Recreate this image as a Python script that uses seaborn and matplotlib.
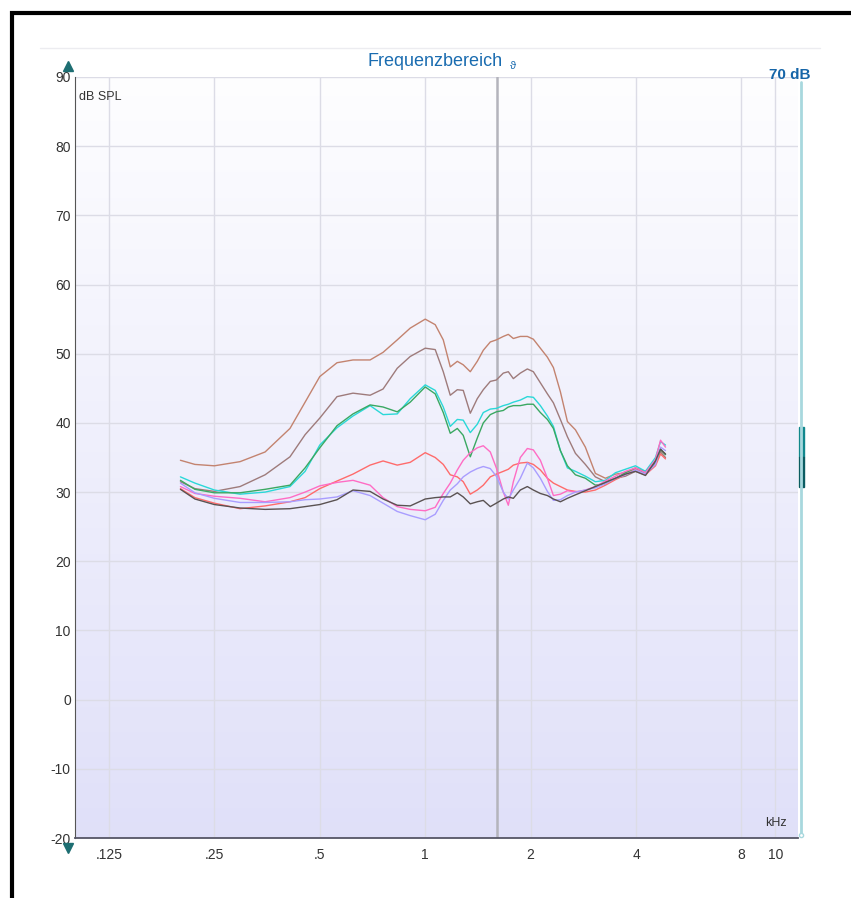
import numpy as np
import pandas as pd
import matplotlib.pyplot as plt
import seaborn as sns
from matplotlib.lines import Line2D
from matplotlib.patches import Rectangle

# frequency grid (kHz) shared by all measured curves
freq_khz = [0.2, 0.22, 0.25, 0.296, 0.349, 0.411, 0.454, 0.5, 0.56, 0.622,
            0.696, 0.758, 0.832, 0.906, 1.0, 1.068, 1.126, 1.179, 1.235, 1.284,
            1.345, 1.408, 1.465, 1.534, 1.596, 1.671, 1.727, 1.785, 1.869, 1.957,
            2.036, 2.132, 2.233, 2.323, 2.432, 2.547, 2.685, 2.866, 3.061, 3.27,
            3.493, 3.73, 3.984, 4.255, 4.545, 4.698, 4.854]

brown = [34.6, 34.0, 33.8, 34.4, 35.8, 39.2, 43.0, 46.7, 48.7, 49.1,
         49.1, 50.2, 52.0, 53.7, 55.0, 54.2, 52.0, 48.1, 48.9, 48.4,
         47.4, 48.9, 50.5, 51.7, 52.0, 52.5, 52.8, 52.2, 52.5, 52.5,
         52.1, 50.8, 49.5, 48.0, 44.5, 40.2, 39.0, 36.5, 32.7, 32.0,
         32.6, 32.8, 33.5, 33.0, 34.5, 36.0, 35.5]
taupe = [31.5, 30.5, 30.1, 30.8, 32.5, 35.1, 38.3, 40.7, 43.8, 44.3,
         44.0, 44.9, 47.9, 49.6, 50.8, 50.6, 47.4, 44.0, 44.8, 44.7,
         41.4, 43.5, 44.8, 46.0, 46.2, 47.2, 47.4, 46.4, 47.2, 47.8,
         47.4, 45.8, 44.2, 42.9, 40.5, 38.0, 35.6, 34.0, 32.2, 31.5,
         32.0, 32.3, 33.0, 32.5, 34.2, 35.8, 35.0]
cyan = [32.2, 31.3, 30.3, 29.7, 30.0, 30.8, 33.0, 36.8, 39.3, 41.0,
        42.5, 41.2, 41.3, 43.5, 45.5, 44.7, 42.3, 39.5, 40.5, 40.4,
        38.6, 39.8, 41.5, 42.0, 42.1, 42.5, 42.7, 43.0, 43.3, 43.8,
        43.7, 42.5, 41.0, 39.5, 36.0, 33.5, 33.0, 32.3, 31.5, 31.7,
        32.8, 33.3, 33.8, 33.0, 35.0, 37.3, 36.8]
green = [31.7, 30.4, 29.9, 29.9, 30.4, 31.0, 33.5, 36.4, 39.6, 41.3,
         42.6, 42.3, 41.6, 43.0, 45.2, 44.2, 41.5, 38.5, 39.2, 38.2,
         35.1, 37.8, 40.0, 41.2, 41.6, 41.8, 42.3, 42.5, 42.5, 42.7,
         42.7, 41.5, 40.5, 39.2, 36.0, 33.8, 32.5, 32.0, 31.0, 31.2,
         32.0, 32.8, 33.4, 32.7, 34.4, 36.2, 35.4]
red = [30.5, 29.2, 28.4, 27.6, 28.0, 28.6, 29.2, 30.5, 31.6, 32.6,
       33.9, 34.5, 33.9, 34.3, 35.7, 35.0, 34.0, 32.5, 32.2, 31.5,
       29.7, 30.3, 31.0, 32.2, 32.6, 33.0, 33.3, 33.9, 34.2, 34.3,
       34.0, 33.2, 32.0, 31.3, 30.8, 30.3, 30.1, 30.0, 30.3, 31.0,
       31.8, 32.5, 33.3, 32.5, 33.8, 35.5, 34.8]
pink = [30.8, 29.8, 29.4, 29.1, 28.6, 29.2, 30.0, 30.9, 31.4, 31.7,
        31.0, 29.2, 27.9, 27.5, 27.3, 27.8, 29.8, 31.3, 33.2, 34.6,
        35.7, 36.4, 36.7, 35.8, 33.5, 30.0, 28.1, 31.5, 35.0, 36.3,
        36.1, 34.6, 32.0, 29.5, 29.7, 30.2, 30.0, 30.3, 30.8, 31.6,
        32.3, 33.0, 33.5, 32.8, 34.7, 37.5, 36.5]
lavender = [31.3, 29.9, 29.1, 28.5, 28.5, 28.6, 28.9, 29.0, 29.3, 30.2,
            29.5, 28.4, 27.2, 26.6, 26.0, 26.8, 28.8, 30.3, 31.2, 32.2,
            32.9, 33.4, 33.7, 33.4, 32.3, 30.0, 29.0, 30.3, 32.0, 34.2,
            33.5, 32.0, 30.1, 28.8, 28.9, 29.5, 30.0, 30.3, 30.6, 31.2,
            32.0, 32.5, 33.2, 32.6, 34.0, 36.5, 36.0]
darkgray = [30.4, 29.0, 28.2, 27.7, 27.5, 27.6, 27.9, 28.2, 28.9, 30.3,
            30.1, 29.0, 28.1, 28.0, 29.0, 29.2, 29.3, 29.3, 29.9, 29.3,
            28.3, 28.6, 28.8, 27.9, 28.4, 29.0, 29.3, 29.1, 30.3, 30.8,
            30.3, 29.8, 29.5, 29.0, 28.6, 29.1, 29.6, 30.2, 30.8, 31.4,
            32.0, 32.6, 33.0, 32.4, 34.5, 36.2, 35.5]

series = {"brown": brown, "taupe": taupe, "cyan": cyan, "green": green,
          "red": red, "pink": pink, "lavender": lavender, "darkgray": darkgray}
palette = {"brown": "#c3836f", "taupe": "#9e7b7b", "cyan": "#2ad8d8",
           "green": "#3aa862", "red": "#ff6b6b", "pink": "#ff6cc4",
           "lavender": "#a99dff", "darkgray": "#5a5252"}

x_ticks = [0.125, 0.25, 0.5, 1, 2, 4, 8, 10]
x_ticklabels = [".125", ".25", ".5", "1", "2", "4", "8", "10"]
y_ticks = list(range(-20, 91, 10))
marker_freq = 1.6

rows = []
for name, vals in series.items():
    for f, v in zip(freq_khz, vals):
        rows.append({"freq": f, "db": v, "series": name})
df = pd.DataFrame(rows)

sns.set_style("white")
plt.rcParams["font.family"] = ["Liberation Sans", "DejaVu Sans"]
plt.rcParams["axes.unicode_minus"] = False

W, H = 851, 898
fig = plt.figure(figsize=(W / 100, H / 100), dpi=100)


def px(x, y):
    return x / W, 1 - y / H


ax_l, ax_r, ax_t, ax_b = 75, 798, 77, 838
ax = fig.add_axes([ax_l / W, 1 - ax_b / H, (ax_r - ax_l) / W, (ax_b - ax_t) / H])

# background gradient white (top) -> lavender (bottom)
grad = np.linspace(0, 1, 256).reshape(-1, 1)
top = np.array([0.995, 0.995, 1.0])
bot = np.array([0.878, 0.878, 0.976])
img = top + (bot - top) * grad[..., None]
ax.imshow(img, extent=[0, 1, 0, 1], origin="upper", transform=ax.transAxes,
          aspect="auto", zorder=0)

ax.set_xscale("log")
ax.set_xlim(0.1, 11.6)
ax.set_ylim(-20, 90)

for t in x_ticks:
    ax.axvline(t, color="#dcdce6", lw=1, zorder=1)
for t in y_ticks:
    ax.axhline(t, color="#dcdce6", lw=1, zorder=1)
ax.axvline(marker_freq, color="#b4b4bc", lw=1.8, zorder=2)

sns.lineplot(data=df, x="freq", y="db", hue="series", palette=palette,
             estimator=None, sort=False, legend=False, lw=1.0, ax=ax, zorder=3)

ax.set_xticks(x_ticks)
ax.set_xticklabels(x_ticklabels)
ax.xaxis.set_minor_locator(plt.NullLocator())
ax.set_yticks(y_ticks)
ax.tick_params(axis="both", length=0, labelsize=10, colors="#333333")
ax.tick_params(axis="x", pad=7)
ax.tick_params(axis="y", pad=3)
ax.set_xlabel("")
ax.set_ylabel("")
for s in ["top", "right"]:
    ax.spines[s].set_visible(False)
ax.spines["left"].set_color("#555555")
ax.spines["bottom"].set_color("#555566")
ax.spines["bottom"].set_linewidth(1.3)

ax.text(0.005, 0.982, "dB SPL", transform=ax.transAxes, fontsize=9,
        color="#333333", va="top", ha="left")
ax.text(0.985, 0.012, "kHz", transform=ax.transAxes, fontsize=9,
        color="#333333", va="bottom", ha="right")

# header, title
fig.add_artist(Line2D([px(40, 0)[0], px(820, 0)[0]], [px(0, 48)[1]] * 2,
                      color="#ececf0", lw=1))
fig.text(*px(435, 62), "Frequenzbereich", fontsize=13, color="#1a6cb0",
         ha="center", va="center")
fig.text(*px(513, 66), "ϑ", fontsize=8, color="#1a6cb0", ha="center", va="center")
fig.text(*px(790, 75), "70 dB", fontsize=11, fontweight="bold", color="#1565a8",
         ha="center", va="center")

# level slider on the right
fig.add_artist(Line2D([px(801, 0)[0]] * 2, [px(0, 82)[1], px(0, 833)[1]],
                      color="#a8d8de", lw=2))
fig.add_artist(Line2D([px(801, 0)[0]], [px(0, 835)[1]], marker="o", markersize=3,
                      markerfacecolor="white", markeredgecolor="#a8d8de"))
fig.add_artist(Rectangle(px(799, 457), 5 / W, 30 / H, color="#11878d"))
fig.add_artist(Rectangle(px(799, 487), 5 / W, 30 / H, color="#0b5c62"))

# range arrows
fig.add_artist(Line2D([px(68, 0)[0]], [px(0, 66)[1]], marker="^", markersize=7,
                      color="#1d6e72", lw=0))
fig.add_artist(Line2D([px(68, 0)[0]], [px(0, 848)[1]], marker="v", markersize=7,
                      color="#1d6e72", lw=0))

# outer frame (top and left edges visible)
fx0, fy_top = px(12, 13)
fig.add_artist(Rectangle((fx0, -0.1), 1.2, fy_top + 0.1, fill=False,
                         edgecolor="black", lw=3))

fig.savefig("out.png", dpi=100)
